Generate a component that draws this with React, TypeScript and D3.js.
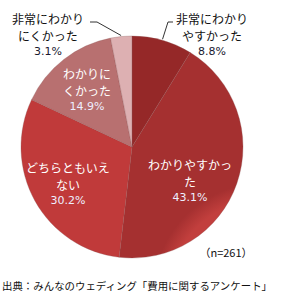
import React from 'react';
import * as d3 from 'd3';

const categories = ['非常にわかりやすかった', 'わかりやすかった', 'どちらともいえない', 'わかりにくかった', '非常にわかりにくかった'];
const values = [8.8, 43.1, 30.2, 14.9, 3.1];
const labelLines = [
  ['非常にわかり', 'やすかった'],
  ['わかりやすかっ', 'た'],
  ['どちらともいえ', 'ない'],
  ['わかりに', 'くかった'],
  ['非常にわかり', 'にくかった'],
];
const sampleNote = '（n=261）';
const sourceNote = '出典：みんなのウェディング「費用に関するアンケート」';

const colors = ['#B23636', '#C23F3D', '#DA4A48', '#CE8585', '#EFC5C7'];
const edgeColors = ['#952828', '#A53030', '#C03A3A', '#B87070', '#DDB0B2'];

// label placement (inside = white, outside = dark with leader)
const labelPos = [
  { x: 212, y: 18, outside: true },
  { x: 190, y: 164, outside: false },
  { x: 68, y: 167, outside: false },
  { x: 87, y: 73, outside: false },
  { x: 48, y: 18, outside: true },
];

const W = 293;
const H = 304;
const cx = 132;
const cy = 147;
const r = 111;

export default function App() {
  const pie = d3.pie<number>().sort(null).value((d) => d)(values);
  const arc = d3.arc<d3.PieArcDatum<number>>().innerRadius(0).outerRadius(r);
  const font = '"Noto Sans CJK JP", sans-serif';

  // leader lines for outside labels
  const leaders = [
    { slice: 0, pts: [[173, 22], [168, 22]] as [number, number][] },
    { slice: 4, pts: [[90, 22], [97, 22]] as [number, number][] },
  ];

  return (
    <div style={{ position: 'fixed', left: 0, top: 0 }}>
      <svg width={W} height={H} style={{ display: 'block', background: '#fff' }}>
        <defs>
          {colors.map((c, i) => (
            <radialGradient key={i} id={`g${i}`} cx={cx} cy={cy} r={r} gradientUnits="userSpaceOnUse">
              <stop offset="0%" stopColor={c} />
              <stop offset="85%" stopColor={c} />
              <stop offset="100%" stopColor={edgeColors[i]} />
            </radialGradient>
          ))}
        </defs>
        <g transform={`translate(${cx},${cy})`}>
          {pie.map((d, i) => (
            <path key={categories[i]} d={arc(d) || ''} fill={`url(#g${i})`} stroke="#8a5050" strokeWidth={0.6} strokeOpacity={0.5} />
          ))}
        </g>
        {leaders.map((l) => {
          const d = pie[l.slice];
          const mid = (d.startAngle + d.endAngle) / 2;
          const ex = cx + Math.sin(mid) * (r + 1);
          const ey = cy - Math.cos(mid) * (r + 1);
          const line = d3.line()([l.pts[0], l.pts[1], [ex, ey]]);
          return <path key={l.slice} d={line || ''} fill="none" stroke="#333" strokeWidth={1} />;
        })}
        {labelLines.map((lines, i) => {
          const p = labelPos[i];
          const fill = p.outside ? '#111' : '#fff';
          const pctFill = p.outside ? '#1a1a30' : '#EEEEFF';
          return (
            <g key={i} fontFamily={font} textAnchor="middle">
              {lines.map((t, j) => (
                <text key={j} x={p.x} y={p.y + j * 17.5} fontSize={12} fill={fill} dominantBaseline="central">
                  {t}
                </text>
              ))}
              <text x={p.x} y={p.y + 33.5} fontSize={11} fill={pctFill} dominantBaseline="central" fontFamily='"DejaVu Sans", sans-serif'>
                {d3.format('.1f')(values[i])}%
              </text>
            </g>
          );
        })}
        <text x={226} y={252} fontSize={11} fontFamily={font} textAnchor="middle" dominantBaseline="central" fill="#111">
          {sampleNote}
        </text>
        <text x={2} y={285} fontSize={10.5} fontFamily={font} dominantBaseline="central" fill="#111" textLength={270} lengthAdjust="spacingAndGlyphs">
          {sourceNote}
        </text>
      </svg>
    </div>
  );
}
